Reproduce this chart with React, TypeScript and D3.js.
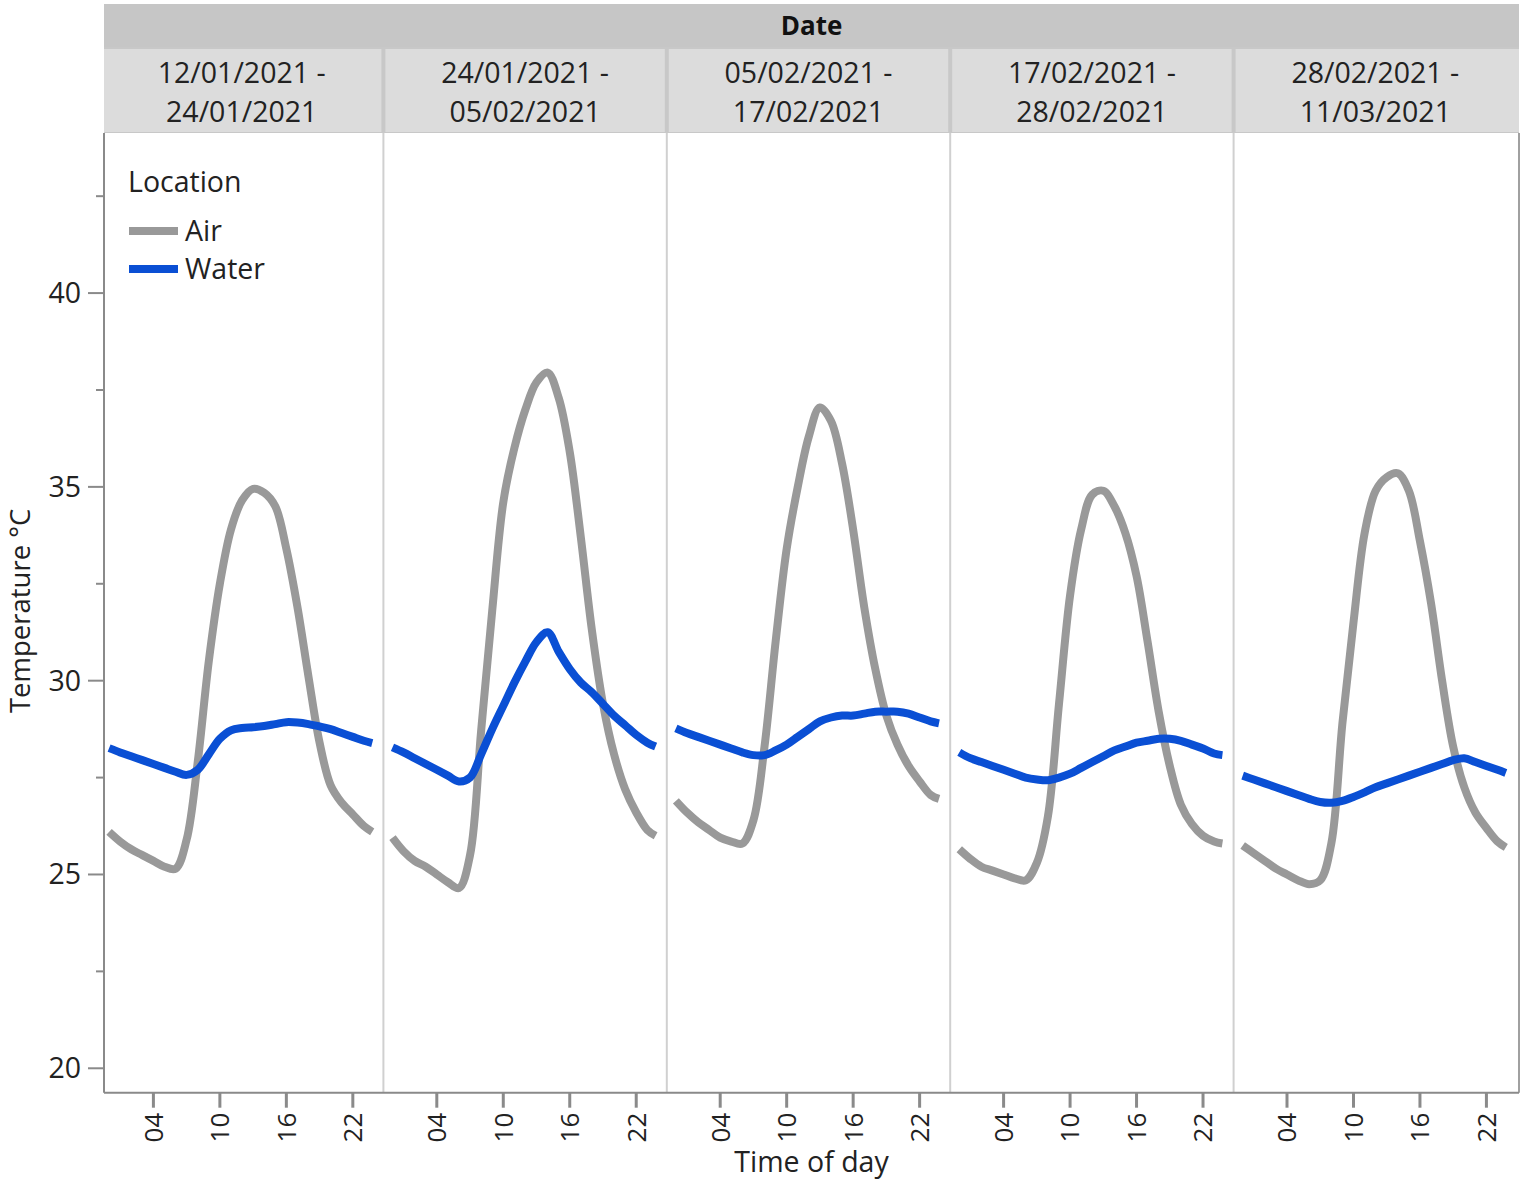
import React from "react";
import * as d3 from "d3";

const PERIODS = [
  ["12/01/2021 -", "24/01/2021"],
  ["24/01/2021 -", "05/02/2021"],
  ["05/02/2021 -", "17/02/2021"],
  ["17/02/2021 -", "28/02/2021"],
  ["28/02/2021 -", "11/03/2021"],
];

const HOURS = [0, 1, 2, 3, 4, 5, 6, 7, 8, 9, 10, 11, 12, 13, 14, 15, 16, 17, 18, 19, 20, 21, 22, 23, 23.75];

const AIR_P1 = [26.1, 25.85, 25.65, 25.5, 25.35, 25.2, 25.15, 25.9, 27.9, 30.5, 32.5, 33.9, 34.65, 34.95, 34.85, 34.5, 33.4, 31.9, 30.1, 28.4, 27.3, 26.85, 26.55, 26.25, 26.1];
const AIR_P2 = [25.95, 25.6, 25.35, 25.2, 25.0, 24.8, 24.65, 25.5, 28.7, 31.8, 34.6, 36.0, 37.0, 37.7, 37.95, 37.3, 35.9, 33.7, 31.3, 29.4, 28.1, 27.2, 26.6, 26.15, 26.0];
const AIR_P3 = [26.9, 26.6, 26.35, 26.15, 25.95, 25.85, 25.8, 26.4, 28.3, 31.0, 33.4, 35.0, 36.3, 37.05, 36.7, 35.6, 33.9, 31.9, 30.3, 29.1, 28.35, 27.8, 27.4, 27.05, 26.95];
const AIR_P4 = [25.65, 25.4, 25.2, 25.1, 25.0, 24.9, 24.85, 25.3, 26.5, 29.4, 32.2, 33.9, 34.8, 34.9, 34.5, 33.8, 32.7, 31.0, 29.2, 27.8, 26.8, 26.3, 26.0, 25.85, 25.8];
const AIR_P5 = [25.75, 25.55, 25.35, 25.15, 25.0, 24.85, 24.75, 24.85, 25.8, 28.9, 31.5, 33.8, 34.9, 35.25, 35.35, 34.9, 33.6, 32.0, 30.0, 28.3, 27.25, 26.6, 26.2, 25.85, 25.7];

const WATER_P1 = [28.26, 28.15, 28.05, 27.95, 27.85, 27.75, 27.65, 27.57, 27.7, 28.1, 28.5, 28.72, 28.78, 28.8, 28.83, 28.88, 28.93, 28.92, 28.88, 28.82, 28.75, 28.65, 28.55, 28.45, 28.39];
const WATER_P2 = [28.28, 28.15, 28.0, 27.85, 27.7, 27.55, 27.4, 27.5, 28.1, 28.75, 29.35, 29.95, 30.5, 31.0, 31.25, 30.75, 30.3, 29.95, 29.7, 29.4, 29.1, 28.85, 28.6, 28.4, 28.3];
const WATER_P3 = [28.77, 28.65, 28.55, 28.45, 28.35, 28.25, 28.15, 28.08, 28.08, 28.2, 28.35, 28.55, 28.75, 28.95, 29.05, 29.1, 29.1, 29.15, 29.2, 29.2, 29.2, 29.15, 29.05, 28.95, 28.9];
const WATER_P4 = [28.15, 28.0, 27.9, 27.8, 27.7, 27.6, 27.5, 27.45, 27.43, 27.5, 27.6, 27.75, 27.9, 28.05, 28.2, 28.3, 28.4, 28.45, 28.5, 28.5, 28.45, 28.35, 28.25, 28.12, 28.08];
const WATER_P5 = [27.55, 27.45, 27.35, 27.25, 27.15, 27.05, 26.95, 26.87, 26.85, 26.9, 27.0, 27.12, 27.25, 27.35, 27.45, 27.55, 27.65, 27.75, 27.85, 27.95, 28.0, 27.9, 27.8, 27.7, 27.62];

const AIR = [AIR_P1, AIR_P2, AIR_P3, AIR_P4, AIR_P5];
const WATER = [WATER_P1, WATER_P2, WATER_P3, WATER_P4, WATER_P5];

const X_TICKS = [4, 10, 16, 22];
const X_TICK_LABELS = ["04", "10", "16", "22"];
const Y_MAJOR = [20, 25, 30, 35, 40];
const Y_MINOR = [22.5, 27.5, 32.5, 37.5, 42.5];

const SERIES = [
  { name: "Air", color: "#999999" },
  { name: "Water", color: "#0a4fd4" },
];

const FONT = "'Open Sans', 'Noto Sans', sans-serif";
const FS = 28.5;

export default function App() {
  const W = 1524;
  const H = 1192;
  const plotLeft = 100;
  const axisX = 104;
  const panelW = 283.4;
  const plotTop = 133;
  const plotBottom = 1092.7;
  const plotRight = plotLeft + panelW * 5 + 2;

  const y = d3.scaleLinear().domain([19.37, 44.13]).range([plotBottom, plotTop]);
  const xs = PERIODS.map((_, i) =>
    d3.scaleLinear().domain([-0.82, 24.76]).range([plotLeft + i * panelW, plotLeft + (i + 1) * panelW])
  );

  const makeLine = (x: d3.ScaleLinear<number, number>) =>
    d3
      .line<number>()
      .x((_, j) => x(HOURS[j]))
      .y((v) => y(v))
      .curve(d3.curveCatmullRom.alpha(0.5));

  return (
    <svg
      width={W}
      height={H}
      style={{ position: "absolute", left: 0, top: 0, display: "block", background: "#fff" }}
      fontFamily={FONT}
    >
      {/* Date header */}
      <rect x={axisX} y={4} width={plotRight - axisX} height={43} fill="#c6c6c6" />
      <text x={(axisX + plotRight) / 2} y={35} textAnchor="middle" fontSize={26} fontWeight="bold" fill="#111">
        Date
      </text>
      {/* sub headers */}
      <rect x={axisX} y={47} width={plotRight - axisX} height={86} fill="#c8c8c8" />
      {PERIODS.map((p, i) => {
        const x0 = i === 0 ? axisX : plotLeft + i * panelW + 2;
        const x1 = i === 4 ? plotRight : plotLeft + (i + 1) * panelW - 2;
        const cx = plotLeft + (i + 0.5) * panelW;
        return (
          <g key={i}>
            <rect x={x0} y={49} width={x1 - x0} height={83} fill="#dcdcdc" />
            <text x={cx} y={83} textAnchor="middle" fontSize={FS} fill="#222">
              {p[0]}
            </text>
            <text x={cx} y={122} textAnchor="middle" fontSize={FS} fill="#222">
              {p[1]}
            </text>
          </g>
        );
      })}

      {/* plot background and separators */}
      <rect x={axisX} y={plotTop} width={plotRight - axisX} height={plotBottom - plotTop} fill="#fff" />
      {[1, 2, 3, 4].map((i) => (
        <line
          key={i}
          x1={plotLeft + i * panelW}
          x2={plotLeft + i * panelW}
          y1={plotTop}
          y2={plotBottom}
          stroke="#d0d0d0"
          strokeWidth={2}
        />
      ))}
      <line x1={plotRight} x2={plotRight} y1={plotTop} y2={plotBottom} stroke="#a0a0a0" strokeWidth={2} />

      {/* series lines */}
      {PERIODS.map((_, i) => {
        const line = makeLine(xs[i]);
        return (
          <g key={i}>
            <path d={line(AIR[i]) || ""} fill="none" stroke={SERIES[0].color} strokeWidth={8} strokeLinecap="butt" strokeLinejoin="round" />
            <path d={line(WATER[i]) || ""} fill="none" stroke={SERIES[1].color} strokeWidth={8} strokeLinecap="butt" strokeLinejoin="round" />
          </g>
        );
      })}

      {/* y axis */}
      <line x1={axisX} x2={axisX} y1={plotTop} y2={plotBottom} stroke="#8a8a8a" strokeWidth={2} />
      {Y_MAJOR.map((v) => (
        <g key={v}>
          <line x1={88} x2={axisX} y1={y(v)} y2={y(v)} stroke="#8a8a8a" strokeWidth={2} />
          <text x={81} y={y(v)} dy="0.35em" textAnchor="end" fontSize={FS} fill="#222">
            {v}
          </text>
        </g>
      ))}
      {Y_MINOR.map((v) => (
        <line key={v} x1={96} x2={axisX} y1={y(v)} y2={y(v)} stroke="#8a8a8a" strokeWidth={2} />
      ))}
      <text
        transform={`translate(30, ${(plotTop + plotBottom) / 2 - 2}) rotate(-90)`}
        textAnchor="middle"
        fontSize={27.5}
        fill="#222"
      >
        Temperature °C
      </text>

      {/* x axis */}
      <line x1={axisX} x2={plotRight} y1={plotBottom} y2={plotBottom} stroke="#8a8a8a" strokeWidth={2} />
      {PERIODS.map((_, i) => (
        <g key={i}>
          {X_TICKS.map((t, k) => (
            <g key={t}>
              <line x1={xs[i](t)} x2={xs[i](t)} y1={plotBottom} y2={plotBottom + 15} stroke="#8a8a8a" strokeWidth={3} />
              <text
                transform={`translate(${xs[i](t)}, ${plotBottom + 20}) rotate(-90)`}
                textAnchor="end"
                dy="0.36em"
                fontSize={26}
                fill="#222"
              >
                {X_TICK_LABELS[k]}
              </text>
            </g>
          ))}
        </g>
      ))}
      <text x={(axisX + plotRight) / 2} y={1172} textAnchor="middle" fontSize={FS} fill="#222">
        Time of day
      </text>

      {/* legend */}
      <text x={128} y={192} fontSize={FS} fill="#222">
        Location
      </text>
      {SERIES.map((s, k) => (
        <g key={s.name}>
          <line x1={129} x2={178} y1={231 + k * 38} y2={231 + k * 38} stroke={s.color} strokeWidth={8} />
          <text x={185} y={231 + k * 38} dy="0.35em" fontSize={FS} fill="#222">
            {s.name}
          </text>
        </g>
      ))}
    </svg>
  );
}
